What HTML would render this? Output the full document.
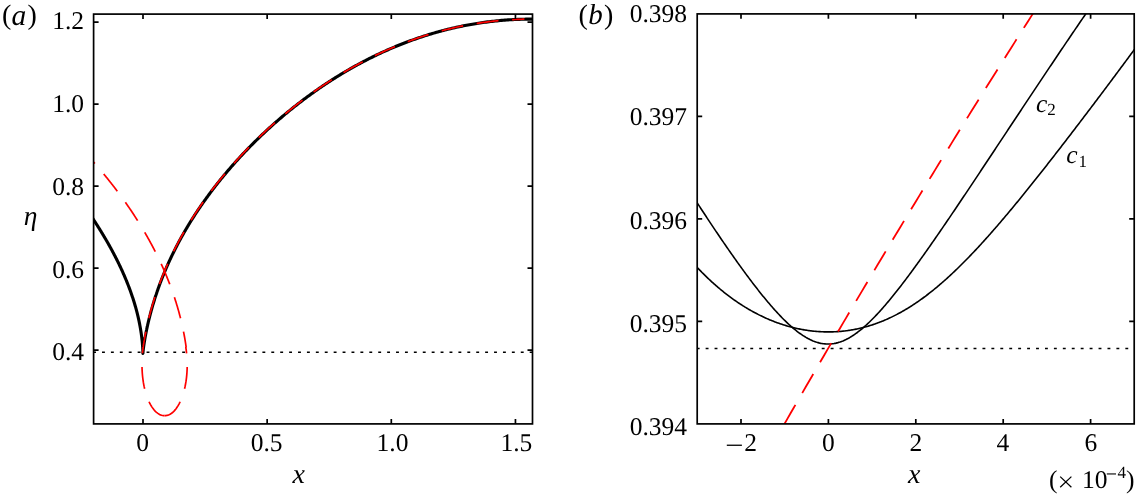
<!DOCTYPE html>
<html><head><meta charset="utf-8"><style>
html,body{margin:0;padding:0;background:#fff;}
body{width:1136px;height:495px;overflow:hidden;}
svg{display:block;will-change:transform;}
text{font-family:"Liberation Serif",serif;fill:#000;text-rendering:geometricPrecision;}
.t{font-size:25.5px;}
.i{font-style:italic;}
</style></head><body>
<svg width="1136" height="495" viewBox="0 0 1136 495">
<defs>
<clipPath id="ca"><rect x="93.6" y="14.1" width="438.9" height="409.8"/></clipPath>
<clipPath id="cb"><rect x="697.2" y="13.9" width="437" height="410"/></clipPath>
</defs>
<!-- ===== panel a ===== -->
<g clip-path="url(#ca)" fill="none">
<line x1="93.6" y1="352.3" x2="533" y2="352.3" stroke="#000" stroke-width="1.5" stroke-dasharray="2.9 6.01" stroke-dashoffset="0.5"/>
<path d="M88.36,211.87 L88.79,212.49 L89.21,213.12 L89.64,213.75 L90.06,214.38 L90.48,215.02 L90.91,215.65 L91.33,216.28 L91.75,216.92 L92.17,217.56 L92.59,218.19 L93.01,218.83 L93.43,219.47 L93.85,220.11 L94.27,220.75 L94.68,221.39 L95.10,222.04 L95.52,222.68 L95.93,223.32 L96.34,223.97 L96.76,224.62 L97.17,225.27 L97.58,225.91 L97.99,226.56 L98.40,227.21 L98.81,227.87 L99.22,228.52 L99.62,229.17 L100.03,229.83 L100.43,230.48 L100.84,231.14 L101.24,231.80 L101.64,232.45 L102.04,233.11 L102.44,233.77 L102.84,234.43 L103.24,235.10 L103.64,235.76 L104.03,236.42 L104.43,237.09 L104.82,237.75 L105.21,238.42 L105.60,239.09 L105.99,239.76 L106.38,240.42 L106.77,241.09 L107.16,241.77 L107.54,242.44 L107.92,243.11 L108.31,243.78 L108.69,244.46 L109.07,245.13 L109.45,245.81 L109.82,246.49 L110.20,247.17 L110.58,247.84 L110.95,248.52 L111.32,249.20 L111.69,249.89 L112.06,250.57 L112.43,251.25 L112.79,251.94 L113.16,252.62 L113.52,253.31 L113.89,253.99 L114.25,254.68 L114.60,255.37 L114.96,256.06 L115.32,256.75 L115.67,257.44 L116.03,258.13 L116.38,258.82 L116.73,259.52 L117.07,260.21 L117.42,260.91 L117.77,261.60 L118.11,262.30 L118.45,262.99 L118.79,263.69 L119.13,264.39 L119.46,265.09 L119.80,265.79 L120.13,266.49 L120.46,267.20 L120.79,267.90 L121.12,268.60 L121.44,269.31 L121.77,270.01 L122.09,270.72 L122.41,271.42 L122.73,272.13 L123.05,272.84 L123.36,273.55 L123.67,274.26 L123.98,274.97 L124.29,275.68 L124.60,276.39 L124.90,277.11 L125.21,277.82 L125.51,278.53 L125.81,279.25 L126.10,279.97 L126.40,280.68 L126.69,281.40 L126.98,282.12 L127.27,282.84 L127.56,283.56 L127.84,284.28 L128.12,285.00 L128.40,285.72 L128.68,286.44 L128.96,287.16 L129.23,287.89 L129.50,288.61 L129.77,289.34 L130.04,290.06 L130.30,290.79 L130.57,291.52 L130.83,292.25 L131.08,292.98 L131.34,293.70 L131.59,294.43 L131.84,295.17 L132.09,295.90 L132.34,296.63 L132.58,297.36 L132.82,298.10 L133.06,298.83 L133.30,299.56 L133.53,300.30 L133.77,301.04 L134.00,301.77 L134.22,302.51 L134.45,303.25 L134.67,303.99 L134.89,304.73 L135.10,305.47 L135.32,306.21 L135.53,306.95 L135.74,307.69 L135.94,308.43 L136.15,309.18 L136.35,309.92 L136.55,310.67 L136.74,311.41 L136.94,312.16 L137.13,312.90 L137.31,313.65 L137.50,314.40 L137.68,315.15 L137.86,315.90 L138.04,316.64 L138.21,317.39 L138.38,318.15 L138.55,318.90 L138.72,319.65 L138.88,320.40 L139.04,321.15 L139.20,321.91 L139.35,322.66 L139.50,323.42 L139.65,324.17 L139.79,324.93 L139.94,325.68 L140.08,326.44 L140.21,327.20 L140.35,327.96 L140.48,328.72 L140.60,329.48 L140.73,330.23 L140.85,331.00 L140.97,331.76 L141.08,332.52 L141.20,333.28 L141.30,334.04 L141.41,334.81 L141.51,335.57 L141.61,336.33 L141.71,337.10 L141.80,337.86 L141.89,338.63 L141.98,339.40 L142.06,340.16 L142.14,340.93 L142.22,341.70 L142.29,342.47 L142.36,343.23 L142.43,344.00 L142.49,344.77 L142.56,345.54 L142.61,346.31 L142.67,347.09 L142.72,347.86 L142.76,348.63 L142.81,349.40 L142.85,350.18 L142.88,350.95 L142.92,351.72 L142.95,352.50 L142.97,353.27 L142.90,353.30 L142.90,353.30 L142.90,353.30 L142.90,353.30 L142.90,353.29 L142.90,353.29 L142.90,353.28 L142.90,353.28 L142.90,353.27 L142.90,353.26 L142.90,353.25 L142.90,353.24 L142.90,353.23 L142.90,353.22 L142.90,353.21 L142.90,353.19 L142.91,353.18 L142.91,353.16 L142.91,353.14 L142.91,353.12 L142.91,353.09 L142.91,353.07 L142.91,353.04 L142.92,353.02 L142.92,352.99 L142.92,352.96 L142.92,352.92 L142.93,352.89 L142.93,352.85 L142.93,352.81 L142.93,352.77 L142.94,352.73 L142.94,352.69 L142.94,352.64 L142.95,352.59 L142.95,352.54 L142.96,352.49 L142.96,352.43 L142.97,352.37 L142.97,352.31 L142.98,352.25 L142.98,352.19 L142.99,352.12 L143.00,352.05 L143.00,351.98 L143.01,351.91 L143.02,351.83 L143.03,351.75 L143.03,351.67 L143.04,351.59 L143.05,351.50 L143.06,351.41 L143.07,351.32 L143.08,351.23 L143.09,351.13 L143.10,351.03 L143.11,350.93 L143.12,350.83 L143.13,350.72 L143.15,350.61 L143.16,350.50 L143.17,350.38 L143.19,350.26 L143.20,350.14 L143.21,350.02 L143.23,349.90 L143.24,349.77 L143.26,349.63 L143.27,349.50 L143.29,349.36 L143.31,349.22 L143.33,349.08 L143.34,348.93 L143.36,348.79 L143.38,348.63 L143.40,348.48 L143.42,348.32 L143.44,348.16 L143.46,348.00 L143.48,347.83 L143.51,347.67 L143.53,347.49 L143.55,347.32 L143.58,347.14 L143.60,346.96 L143.63,346.78 L143.65,346.59 L143.68,346.40 L143.70,346.21 L143.73,346.02 L143.76,345.82 L143.79,345.62 L143.82,345.41 L143.85,345.21 L143.88,345.00 L143.91,344.79 L143.94,344.57 L143.97,344.35 L144.01,344.13 L144.04,343.91 L144.08,343.68 L144.11,343.45 L144.15,343.22 L144.18,342.98 L144.22,342.74 L144.26,342.50 L144.30,342.25 L144.34,342.01 L144.38,341.76 L144.42,341.50 L144.46,341.25 L144.50,340.99 L144.55,340.73 L144.59,340.46 L144.64,340.19 L144.68,339.92 L144.73,339.65 L144.77,339.37 L144.82,339.09 L144.87,338.81 L144.92,338.52 L144.97,338.24 L145.02,337.95 L145.08,337.65 L145.13,337.36 L145.18,337.06 L145.24,336.75 L145.29,336.45 L145.35,336.14 L145.41,335.83 L145.47,335.52 L145.52,335.20 L145.58,334.88 L145.65,334.56 L145.71,334.24 L145.77,333.91 L145.83,333.58 L145.90,333.25 L145.96,332.92 L146.03,332.58 L146.10,332.24 L146.17,331.89 L146.24,331.55 L146.31,331.20 L146.38,330.85 L146.45,330.50 L146.52,330.14 L146.60,329.78 L146.67,329.42 L146.75,329.06 L146.83,328.69 L146.91,328.32 L146.99,327.95 L147.07,327.57 L147.15,327.20 L147.23,326.82 L147.32,326.44 L147.40,326.05 L147.49,325.67 L147.57,325.28 L147.66,324.89 L147.75,324.49 L147.84,324.09 L147.93,323.70 L148.03,323.29 L148.12,322.89 L148.21,322.48 L148.31,322.08 L148.41,321.67 L148.51,321.25 L148.61,320.84 L148.71,320.42 L148.81,320.00 L148.91,319.58 L149.02,319.15 L149.12,318.72 L149.23,318.29 L149.34,317.86 L149.44,317.43 L149.55,316.99 L149.67,316.56 L149.78,316.11 L149.89,315.67 L150.01,315.23 L150.12,314.78 L150.24,314.33 L150.36,313.88 L150.48,313.43 L150.60,312.97 L150.73,312.51 L150.85,312.05 L150.98,311.59 L151.10,311.13 L151.23,310.66 L151.36,310.19 L151.49,309.72 L151.62,309.25 L151.76,308.78 L151.89,308.30 L152.03,307.82 L152.17,307.34 L152.30,306.86 L152.45,306.38 L152.59,305.89 L152.73,305.41 L152.87,304.92 L153.02,304.42 L153.17,303.93 L153.32,303.44 L153.47,302.94 L153.62,302.44 L153.77,301.94 L153.93,301.44 L154.08,300.93 L154.24,300.43 L154.40,299.92 L154.56,299.41 L154.72,298.90 L154.88,298.38 L155.05,297.87 L155.22,297.35 L155.38,296.83 L155.55,296.31 L155.72,295.79 L155.90,295.27 L156.07,294.74 L156.25,294.22 L156.42,293.69 L156.60,293.16 L156.78,292.63 L156.96,292.09 L157.15,291.56 L157.33,291.02 L157.52,290.48 L157.71,289.94 L157.90,289.40 L158.09,288.86 L158.28,288.32 L158.48,287.77 L158.67,287.22 L158.87,286.67 L159.07,286.12 L159.27,285.57 L159.48,285.02 L159.68,284.46 L159.89,283.91 L160.09,283.35 L160.30,282.79 L160.52,282.23 L160.73,281.67 L160.94,281.10 L161.16,280.54 L161.38,279.97 L161.60,279.40 L161.82,278.83 L162.04,278.26 L162.27,277.69 L162.50,277.12 L162.72,276.55 L162.95,275.97 L163.19,275.39 L163.42,274.81 L163.66,274.23 L163.89,273.65 L164.13,273.07 L164.38,272.49 L164.62,271.90 L164.86,271.32 L165.11,270.73 L165.36,270.14 L165.61,269.55 L165.86,268.96 L166.12,268.37 L166.37,267.77 L166.63,267.18 L166.89,266.58 L167.15,265.99 L167.42,265.39 L167.68,264.79 L167.95,264.19 L168.22,263.59 L168.49,262.98 L168.76,262.38 L169.04,261.78 L169.31,261.17 L169.59,260.56 L169.87,259.95 L170.16,259.34 L170.44,258.73 L170.73,258.12 L171.02,257.51 L171.31,256.89 L171.60,256.28 L171.90,255.66 L172.19,255.05 L172.49,254.43 L172.79,253.81 L173.10,253.19 L173.40,252.57 L173.71,251.95 L174.02,251.32 L174.33,250.70 L174.64,250.07 L174.96,249.45 L175.27,248.82 L175.59,248.19 L175.92,247.56 L176.24,246.93 L176.56,246.30 L176.89,245.67 L177.22,245.03 L177.55,244.40 L177.89,243.76 L178.23,243.13 L178.56,242.49 L178.90,241.85 L179.25,241.21 L179.59,240.57 L179.94,239.93 L180.29,239.29 L180.64,238.65 L180.99,238.01 L181.35,237.36 L181.71,236.72 L182.07,236.07 L182.43,235.42 L182.80,234.78 L183.16,234.13 L183.53,233.48 L183.91,232.83 L184.28,232.18 L184.66,231.52 L185.03,230.87 L185.41,230.22 L185.80,229.56 L186.18,228.91 L186.57,228.25 L186.96,227.59 L187.35,226.93 L187.75,226.28 L188.14,225.62 L188.54,224.96 L188.94,224.29 L189.35,223.63 L189.76,222.97 L190.16,222.31 L190.57,221.64 L190.99,220.98 L191.40,220.31 L191.82,219.64 L192.24,218.98 L192.67,218.31 L193.09,217.64 L193.52,216.97 L193.95,216.30 L194.38,215.63 L194.82,214.95 L195.25,214.28 L195.69,213.61 L196.14,212.93 L196.58,212.26 L197.03,211.58 L197.48,210.91 L197.93,210.23 L198.39,209.55 L198.84,208.87 L199.30,208.19 L199.76,207.51 L200.23,206.83 L200.70,206.15 L201.17,205.47 L201.64,204.78 L202.11,204.10 L202.59,203.42 L203.07,202.73 L203.55,202.05 L204.04,201.36 L204.53,200.67 L205.02,199.99 L205.51,199.30 L206.01,198.61 L206.50,197.92 L207.01,197.23 L207.51,196.54 L208.02,195.85 L208.52,195.16 L209.04,194.46 L209.55,193.77 L210.07,193.08 L210.59,192.38 L211.11,191.69 L211.63,190.99 L212.16,190.30 L212.69,189.60 L213.22,188.90 L213.76,188.20 L214.30,187.51 L214.84,186.81 L215.38,186.11 L215.93,185.41 L216.48,184.71 L217.03,184.01 L217.58,183.30 L218.14,182.60 L218.70,181.90 L219.26,181.20 L219.83,180.49 L220.40,179.79 L220.97,179.08 L221.54,178.38 L222.12,177.67 L222.70,176.97 L223.28,176.26 L223.87,175.55 L224.45,174.84 L225.04,174.14 L225.64,173.43 L226.24,172.72 L226.83,172.01 L227.44,171.30 L228.04,170.59 L228.65,169.88 L229.26,169.17 L229.88,168.46 L230.49,167.74 L231.11,167.03 L231.73,166.32 L232.36,165.61 L232.99,164.89 L233.62,164.18 L234.25,163.47 L234.89,162.75 L235.53,162.04 L236.18,161.32 L236.82,160.61 L237.47,159.89 L238.12,159.17 L238.78,158.46 L239.44,157.74 L240.10,157.02 L240.76,156.31 L241.43,155.59 L242.10,154.87 L242.77,154.15 L243.45,153.44 L244.13,152.72 L244.81,152.00 L245.50,151.28 L246.19,150.56 L246.88,149.84 L247.57,149.12 L248.27,148.40 L248.97,147.68 L249.67,146.97 L250.38,146.25 L251.09,145.53 L251.80,144.81 L252.52,144.09 L253.24,143.37 L253.96,142.64 L254.69,141.92 L255.42,141.20 L256.15,140.48 L256.89,139.76 L257.62,139.04 L258.37,138.32 L259.11,137.60 L259.86,136.88 L260.61,136.16 L261.37,135.44 L262.12,134.72 L262.88,134.00 L263.65,133.28 L264.42,132.56 L265.19,131.84 L265.96,131.12 L266.74,130.40 L267.52,129.68 L268.30,128.96 L269.09,128.24 L269.88,127.52 L270.67,126.80 L271.47,126.09 L272.27,125.37 L273.07,124.65 L273.88,123.93 L274.69,123.21 L275.50,122.50 L276.32,121.78 L277.14,121.06 L277.97,120.35 L278.79,119.63 L279.62,118.92 L280.46,118.20 L281.29,117.49 L282.13,116.77 L282.98,116.06 L283.82,115.35 L284.68,114.63 L285.53,113.92 L286.39,113.21 L287.25,112.50 L288.11,111.79 L288.98,111.08 L289.85,110.37 L290.73,109.66 L291.60,108.95 L292.49,108.24 L293.37,107.54 L294.26,106.83 L295.15,106.13 L296.05,105.42 L296.95,104.72 L297.85,104.01 L298.75,103.31 L299.66,102.61 L300.58,101.91 L301.49,101.21 L302.41,100.51 L303.34,99.81 L304.27,99.11 L305.20,98.42 L306.13,97.72 L307.07,97.03 L308.01,96.34 L308.96,95.64 L309.91,94.95 L310.86,94.26 L311.81,93.57 L312.77,92.89 L313.74,92.20 L314.70,91.51 L315.67,90.83 L316.65,90.15 L317.63,89.46 L318.61,88.78 L319.59,88.10 L320.58,87.43 L321.58,86.75 L322.57,86.07 L323.57,85.40 L324.58,84.73 L325.58,84.06 L326.59,83.39 L327.61,82.72 L328.63,82.05 L329.65,81.39 L330.68,80.73 L331.71,80.06 L332.74,79.40 L333.78,78.75 L334.82,78.09 L335.86,77.43 L336.91,76.78 L337.96,76.13 L339.02,75.48 L340.08,74.83 L341.14,74.19 L342.21,73.54 L343.28,72.90 L344.36,72.26 L345.44,71.62 L346.52,70.99 L347.61,70.35 L348.70,69.72 L349.79,69.09 L350.89,68.46 L352.00,67.84 L353.10,67.22 L354.21,66.59 L355.33,65.98 L356.44,65.36 L357.57,64.75 L358.69,64.13 L359.82,63.52 L360.96,62.92 L362.09,62.31 L363.23,61.71 L364.38,61.11 L365.53,60.52 L366.68,59.92 L367.84,59.33 L369.00,58.74 L370.17,58.16 L371.34,57.57 L372.51,56.99 L373.69,56.41 L374.87,55.84 L376.06,55.27 L377.24,54.70 L378.44,54.13 L379.64,53.57 L380.84,53.01 L382.04,52.45 L383.25,51.90 L384.47,51.35 L385.69,50.80 L386.91,50.25 L388.13,49.71 L389.36,49.18 L390.60,48.64 L391.84,48.11 L393.08,47.58 L394.33,47.06 L395.58,46.54 L396.83,46.02 L398.09,45.51 L399.35,45.00 L400.62,44.49 L401.89,43.99 L403.17,43.49 L404.45,42.99 L405.73,42.50 L407.02,42.01 L408.31,41.53 L409.61,41.05 L410.91,40.57 L412.22,40.10 L413.53,39.63 L414.84,39.17 L416.16,38.71 L417.48,38.25 L418.81,37.80 L420.14,37.35 L421.47,36.91 L422.81,36.47 L424.16,36.04 L425.50,35.61 L426.86,35.18 L428.21,34.76 L429.57,34.34 L430.94,33.93 L432.31,33.53 L433.68,33.12 L435.06,32.73 L436.44,32.33 L437.83,31.94 L439.22,31.56 L440.62,31.18 L442.02,30.81 L443.42,30.44 L444.83,30.08 L446.24,29.72 L447.66,29.36 L449.08,29.02 L450.51,28.67 L451.94,28.33 L453.37,28.00 L454.81,27.67 L456.26,27.35 L457.71,27.04 L459.16,26.72 L460.62,26.42 L462.08,26.12 L463.54,25.82 L465.01,25.54 L466.49,25.25 L467.97,24.98 L469.45,24.70 L470.94,24.44 L472.44,24.18 L473.93,23.92 L475.44,23.68 L476.94,23.43 L478.46,23.20 L479.97,22.97 L481.49,22.74 L483.02,22.53 L484.55,22.31 L486.08,22.11 L487.62,21.91 L489.16,21.72 L490.71,21.53 L492.26,21.35 L493.82,21.18 L495.38,21.01 L496.95,20.85 L498.52,20.70 L500.10,20.55 L501.68,20.41 L503.26,20.28 L504.85,20.15 L506.45,20.03 L508.05,19.92 L509.65,19.81 L511.26,19.71 L512.87,19.62 L514.49,19.54 L516.11,19.46 L517.74,19.39 L519.37,19.33 L521.01,19.27 L522.65,19.22 L524.30,19.18 L525.95,19.15 L527.60,19.12 L529.26,19.10 L530.93,19.09 L532.60,19.09 L535.60,19.09" stroke="#000" stroke-width="3.1" stroke-linejoin="round"/>
<path d="M164.60,415.70 L165.71,415.64 L166.82,415.45 L167.93,415.15 L169.02,414.72 L170.11,414.17 L171.18,413.50 L172.24,412.72 L173.28,411.82 L174.29,410.80 L175.29,409.67 L176.25,408.44 L177.19,407.10 L178.10,405.66 L178.98,404.12 L179.82,402.48 L180.62,400.76 L181.39,398.94 L182.11,397.05 L182.79,395.08 L183.43,393.03 L184.02,390.92 L184.57,388.74 L185.07,386.50 L185.51,384.22 L185.91,381.88 L186.25,379.51 L186.55,377.10 L186.79,374.66 L186.97,372.20 L187.10,369.72 L187.18,367.23 L187.20,364.73 L187.17,362.24 L187.08,359.75 L186.94,357.27 L186.74,354.82 L186.49,352.38 L186.19,349.98 L185.83,347.62 L186.09,346.82 L185.99,346.08 L185.88,345.34 L185.77,344.60 L185.66,343.86 L185.55,343.12 L185.44,342.38 L185.32,341.64 L185.20,340.90 L185.08,340.17 L184.95,339.43 L184.83,338.70 L184.70,337.96 L184.57,337.22 L184.44,336.49 L184.31,335.76 L184.17,335.02 L184.04,334.29 L183.90,333.56 L183.76,332.83 L183.61,332.09 L183.47,331.36 L183.32,330.63 L183.17,329.90 L183.02,329.17 L182.87,328.44 L182.71,327.71 L182.56,326.99 L182.40,326.26 L182.24,325.53 L182.07,324.81 L181.91,324.08 L181.74,323.35 L181.57,322.63 L181.40,321.91 L181.23,321.18 L181.06,320.46 L180.88,319.73 L180.70,319.01 L180.52,318.29 L180.34,317.57 L180.16,316.85 L179.97,316.13 L179.78,315.41 L179.60,314.69 L179.40,313.97 L179.21,313.25 L179.02,312.54 L178.82,311.82 L178.62,311.10 L178.42,310.39 L178.22,309.67 L178.02,308.96 L177.81,308.24 L177.60,307.53 L177.39,306.81 L177.18,306.10 L176.97,305.39 L176.75,304.68 L176.54,303.97 L176.32,303.26 L176.10,302.55 L175.88,301.84 L175.65,301.13 L175.43,300.42 L175.20,299.71 L174.97,299.00 L174.74,298.30 L174.51,297.59 L174.28,296.89 L174.04,296.18 L173.80,295.48 L173.56,294.77 L173.32,294.07 L173.08,293.37 L172.84,292.66 L172.59,291.96 L172.34,291.26 L172.09,290.56 L171.84,289.86 L171.59,289.16 L171.34,288.46 L171.08,287.77 L170.82,287.07 L170.56,286.37 L170.30,285.68 L170.04,284.98 L169.77,284.28 L169.51,283.59 L169.24,282.90 L168.97,282.20 L168.70,281.51 L168.43,280.82 L168.15,280.13 L167.88,279.44 L167.60,278.74 L167.32,278.06 L167.04,277.37 L166.76,276.68 L166.48,275.99 L166.19,275.30 L165.91,274.62 L165.62,273.93 L165.33,273.24 L165.04,272.56 L164.74,271.87 L164.45,271.19 L164.15,270.51 L163.85,269.82 L163.56,269.14 L163.25,268.46 L162.95,267.78 L162.65,267.10 L162.34,266.42 L162.04,265.74 L161.73,265.06 L161.42,264.39 L161.11,263.71 L160.80,263.03 L160.48,262.36 L160.17,261.68 L159.85,261.01 L159.53,260.34 L159.21,259.66 L158.89,258.99 L158.57,258.32 L158.24,257.65 L157.92,256.98 L157.59,256.31 L157.26,255.64 L156.93,254.97 L156.60,254.30 L156.27,253.63 L155.93,252.97 L155.60,252.30 L155.26,251.64 L154.92,250.97 L154.58,250.31 L154.24,249.64 L153.90,248.98 L153.55,248.32 L153.21,247.66 L152.86,247.00 L152.51,246.34 L152.16,245.68 L151.81,245.02 L151.46,244.36 L151.10,243.70 L150.75,243.05 L150.39,242.39 L150.04,241.73 L149.68,241.08 L149.32,240.43 L148.96,239.77 L148.59,239.12 L148.23,238.47 L147.86,237.82 L147.50,237.17 L147.13,236.52 L146.76,235.87 L146.39,235.22 L146.02,234.57 L145.64,233.92 L145.27,233.28 L144.89,232.63 L144.52,231.99 L144.14,231.34 L143.76,230.70 L143.38,230.05 L143.00,229.41 L142.62,228.77 L142.23,228.13 L141.85,227.49 L141.46,226.85 L141.07,226.21 L140.68,225.57 L140.29,224.94 L139.90,224.30 L139.51,223.66 L139.12,223.03 L138.72,222.39 L138.32,221.76 L137.93,221.13 L137.53,220.49 L137.13,219.86 L136.73,219.23 L136.33,218.60 L135.92,217.97 L135.52,217.34 L135.11,216.71 L134.71,216.09 L134.30,215.46 L133.89,214.83 L133.48,214.21 L133.07,213.58 L132.66,212.96 L132.25,212.34 L131.83,211.71 L131.42,211.09 L131.00,210.47 L130.58,209.85 L130.17,209.23 L129.75,208.61 L129.33,208.00 L128.90,207.38 L128.48,206.76 L128.06,206.15 L127.63,205.53 L127.21,204.92 L126.78,204.31 L126.35,203.69 L125.92,203.08 L125.49,202.47 L125.06,201.86 L124.63,201.25 L124.20,200.64 L123.77,200.03 L123.33,199.43 L122.90,198.82 L122.46,198.21 L122.02,197.61 L121.58,197.00 L121.14,196.40 L120.70,195.80 L120.26,195.20 L119.82,194.60 L119.37,194.00 L118.93,193.40 L118.48,192.80 L118.04,192.20 L117.59,191.60 L117.14,191.01 L116.69,190.41 L116.24,189.82 L115.79,189.22 L115.34,188.63 L114.89,188.04 L114.44,187.44 L113.98,186.85 L113.53,186.26 L113.07,185.67 L112.61,185.08 L112.16,184.50 L111.70,183.91 L111.24,183.32 L110.78,182.74 L110.32,182.15 L109.85,181.57 L109.39,180.99 L108.93,180.40 L108.46,179.82 L108.00,179.24 L107.53,178.66 L107.07,178.08 L106.60,177.51 L106.13,176.93 L105.66,176.35 L105.19,175.78 L104.72,175.20 L104.25,174.63 L103.78,174.06 L103.30,173.48 L102.83,172.91 L102.35,172.34 L101.88,171.77 L101.40,171.20 L100.92,170.63 L100.45,170.07 L99.97,169.50 L99.49,168.93 L99.01,168.37 L98.53,167.80 L98.05,167.24 L97.57,166.68 L97.08,166.12 L96.60,165.56 L96.12,165.00 L95.63,164.44 L95.15,163.88 L94.66,163.32 L94.17,162.77 L93.69,162.21 L93.20,161.66 L92.71,161.10 L92.22,160.55 L91.73,160.00 L91.24,159.45 L90.75,158.89 L90.26,158.34 L89.76,157.80 L89.27,157.25 L88.78,156.70 L88.28,156.15 L87.79,155.61 L87.29,155.07 L86.80,154.52 L86.30,153.98 L85.80,153.44 L85.30,152.90" stroke="#f00" stroke-width="1.7" stroke-dasharray="22 13.7" stroke-dashoffset="0"/>
<path d="M164.60,415.70 L163.57,415.65 L162.55,415.49 L161.53,415.23 L160.52,414.87 L159.51,414.40 L158.52,413.83 L157.54,413.16 L156.57,412.39 L155.62,411.53 L154.69,410.56 L153.78,409.51 L152.89,408.36 L152.02,407.12 L151.18,405.80 L150.37,404.39 L149.59,402.90 L148.84,401.33 L148.12,399.69 L147.43,397.97 L146.78,396.19 L146.17,394.35 L145.60,392.44 L145.06,390.48 L144.57,388.46 L144.11,386.40 L143.70,384.29 L143.33,382.14 L143.01,379.96 L142.73,377.74 L142.49,375.50 L142.30,373.24 L142.16,370.96 L142.06,368.67 L142.01,366.37 L142.00,364.07 L142.05,361.77 L142.13,359.48 L142.27,357.19 L142.45,354.93 L142.52,353.02 L142.52,352.99 L142.52,352.96 L142.52,352.93 L142.52,352.90 L142.53,352.86 L142.53,352.83 L142.53,352.79 L142.54,352.75 L142.54,352.71 L142.54,352.66 L142.55,352.62 L142.55,352.57 L142.55,352.52 L142.56,352.47 L142.56,352.41 L142.57,352.36 L142.57,352.30 L142.58,352.24 L142.59,352.18 L142.59,352.11 L142.60,352.05 L142.60,351.98 L142.61,351.91 L142.62,351.84 L142.63,351.76 L142.63,351.68 L142.64,351.60 L142.65,351.52 L142.66,351.44 L142.67,351.35 L142.68,351.26 L142.69,351.17 L142.70,351.08 L142.71,350.98 L142.72,350.88 L142.73,350.78 L142.74,350.68 L142.75,350.57 L142.76,350.46 L142.78,350.35 L142.79,350.24 L142.80,350.12 L142.82,350.00 L142.83,349.88 L142.84,349.76 L142.86,349.63 L142.87,349.50 L142.89,349.37 L142.91,349.23 L142.92,349.10 L142.94,348.96 L142.96,348.82 L142.98,348.67 L143.00,348.52 L143.01,348.38 L143.03,348.22 L143.05,348.07 L143.07,347.91 L143.10,347.75 L143.12,347.59 L143.14,347.42 L143.16,347.25 L143.18,347.08 L143.21,346.91 L143.23,346.73 L143.26,346.55 L143.28,346.37 L143.31,346.18 L143.33,346.00 L143.36,345.81 L143.39,345.61 L143.42,345.42 L143.45,345.22 L143.48,345.02 L143.50,344.82 L143.54,344.61 L143.57,344.40 L143.60,344.19 L143.63,343.98 L143.66,343.76 L143.70,343.54 L143.73,343.32 L143.77,343.09 L143.80,342.86 L143.84,342.63 L143.87,342.40 L143.91,342.17 L143.95,341.93 L143.99,341.69 L144.03,341.44 L144.07,341.20 L144.11,340.95 L144.15,340.69 L144.19,340.44 L144.24,340.18 L144.28,339.92 L144.33,339.66 L144.37,339.40 L144.42,339.13 L144.46,338.86 L144.51,338.58 L144.56,338.31 L144.61,338.03 L144.66,337.75 L144.71,337.47 L144.76,337.18 L144.81,336.89 L144.87,336.60 L144.92,336.31 L144.97,336.01 L145.03,335.71 L145.09,335.41 L145.14,335.11 L145.20,334.80 L145.26,334.49 L145.32,334.18 L145.38,333.87 L145.44,333.55 L145.50,333.23 L145.57,332.91 L145.63,332.59 L145.69,332.26 L145.76,331.93 L145.83,331.60 L145.89,331.27 L145.96,330.93 L146.03,330.59 L146.10,330.25 L146.17,329.91 L146.24,329.56 L146.32,329.22 L146.39,328.87 L146.47,328.51 L146.54,328.16 L146.62,327.80 L146.70,327.44 L146.78,327.08 L146.85,326.71 L146.94,326.35 L147.02,325.98 L147.10,325.61 L147.18,325.23 L147.27,324.86 L147.35,324.48 L147.44,324.10 L147.53,323.72 L147.62,323.33 L147.71,322.95 L147.80,322.56 L147.89,322.16 L147.98,321.77 L148.08,321.38 L148.17,320.98 L148.27,320.58 L148.36,320.18 L148.46,319.77 L148.56,319.37 L148.66,318.96 L148.76,318.55 L148.87,318.13 L148.97,317.72 L149.08,317.30 L149.18,316.88 L149.29,316.46 L149.40,316.04 L149.51,315.62 L149.62,315.19 L149.73,314.76 L149.84,314.33 L149.96,313.90 L150.07,313.46 L150.19,313.03 L150.31,312.59 L150.43,312.15 L150.55,311.70 L150.67,311.26 L150.79,310.81 L150.91,310.36 L151.04,309.91 L151.16,309.46 L151.29,309.01 L151.42,308.55 L151.55,308.10 L151.68,307.64 L151.81,307.18 L151.95,306.71 L152.08,306.25 L152.22,305.78 L152.36,305.31 L152.50,304.84 L152.64,304.37 L152.78,303.90 L152.92,303.43 L153.06,302.95 L153.21,302.47 L153.36,301.99 L153.50,301.51 L153.65,301.02 L153.80,300.54 L153.96,300.05 L154.11,299.56 L154.27,299.07 L154.42,298.58 L154.58,298.09 L154.74,297.59 L154.90,297.10 L155.06,296.60 L155.22,296.10 L155.39,295.60 L155.55,295.10 L155.72,294.59 L155.89,294.09 L156.06,293.58 L156.23,293.07 L156.40,292.56 L156.58,292.05 L156.76,291.54 L156.93,291.02 L157.11,290.51 L157.29,289.99 L157.47,289.47 L157.66,288.95 L157.84,288.43 L158.03,287.90 L158.22,287.38 L158.41,286.85 L158.60,286.33 L158.79,285.80 L158.98,285.27 L159.18,284.74 L159.38,284.20 L159.57,283.67 L159.77,283.13 L159.98,282.60 L160.18,282.06 L160.38,281.52 L160.59,280.98 L160.80,280.44 L161.01,279.89 L161.22,279.35 L161.43,278.80 L161.65,278.26 L161.86,277.71 L162.08,277.16 L162.30,276.61 L162.52,276.05 L162.74,275.50 L162.97,274.95 L163.19,274.39 L163.42,273.83 L163.65,273.28 L163.88,272.72 L164.11,272.16 L164.35,271.60 L164.58,271.03 L164.82,270.47 L165.06,269.90 L165.30,269.34 L165.54,268.77 L165.79,268.20 L166.03,267.63 L166.28,267.06 L166.53,266.49 L166.78,265.92 L167.03,265.34 L167.29,264.77 L167.55,264.19 L167.80,263.62 L168.06,263.04 L168.33,262.46 L168.59,261.88 L168.85,261.30 L169.12,260.72 L169.39,260.13 L169.66,259.55 L169.93,258.96 L170.21,258.38 L170.49,257.79 L170.76,257.20 L171.04,256.61 L171.32,256.02 L171.61,255.43 L171.89,254.84 L172.18,254.24 L172.47,253.65 L172.76,253.06 L173.05,252.46 L173.35,251.86 L173.65,251.26 L173.94,250.67 L174.24,250.07 L174.55,249.47 L174.85,248.86 L175.16,248.26 L175.47,247.66 L175.78,247.05 L176.09,246.45 L176.40,245.84 L176.72,245.24 L177.04,244.63 L177.36,244.02 L177.68,243.41 L178.00,242.80 L178.33,242.19 L178.65,241.57 L178.98,240.96 L179.32,240.35 L179.65,239.73 L179.99,239.12 L180.32,238.50 L180.66,237.88 L181.00,237.27 L181.35,236.65 L181.69,236.03 L182.04,235.41 L182.39,234.78 L182.74,234.16 L183.10,233.54 L183.45,232.92 L183.81,232.29 L184.17,231.67 L184.54,231.04 L184.90,230.41 L185.27,229.79 L185.64,229.16 L186.01,228.53 L186.38,227.90 L186.75,227.27 L187.13,226.64 L187.51,226.00 L187.89,225.37 L188.28,224.74 L188.66,224.10 L189.05,223.47 L189.44,222.83 L189.83,222.19 L190.23,221.56 L190.62,220.92 L191.02,220.28 L191.42,219.64 L191.83,219.00 L192.23,218.36 L192.64,217.72 L193.05,217.08 L193.46,216.43 L193.88,215.79 L194.29,215.14 L194.71,214.50 L195.13,213.85 L195.56,213.21 L195.98,212.56 L196.41,211.91 L196.84,211.26 L197.27,210.61 L197.71,209.96 L198.14,209.31 L198.58,208.66 L199.03,208.01 L199.47,207.36 L199.92,206.71 L200.36,206.05 L200.82,205.40 L201.27,204.74 L201.72,204.09 L202.18,203.43 L202.64,202.77 L203.11,202.12 L203.57,201.46 L204.04,200.80 L204.51,200.14 L204.98,199.48 L205.45,198.82 L205.93,198.16 L206.41,197.50 L206.89,196.84 L207.38,196.17 L207.86,195.51 L208.35,194.85 L208.84,194.18 L209.34,193.52 L209.83,192.85 L210.33,192.19 L210.83,191.52 L211.34,190.85 L211.84,190.18 L212.35,189.52 L212.86,188.85 L213.38,188.18 L213.89,187.51 L214.41,186.84 L214.93,186.17 L215.46,185.50 L215.98,184.82 L216.51,184.15 L217.04,183.48 L217.58,182.80 L218.11,182.13 L218.65,181.46 L219.19,180.78 L219.74,180.11 L220.28,179.43 L220.83,178.76 L221.39,178.08 L221.94,177.40 L222.50,176.72 L223.06,176.05 L223.62,175.37 L224.18,174.69 L224.75,174.01 L225.32,173.33 L225.89,172.65 L226.47,171.97 L227.05,171.29 L227.63,170.61 L228.21,169.93 L228.80,169.24 L229.38,168.56 L229.97,167.88 L230.57,167.20 L231.17,166.51 L231.76,165.83 L232.37,165.15 L232.97,164.46 L233.58,163.78 L234.19,163.09 L234.80,162.41 L235.42,161.72 L236.03,161.03 L236.66,160.35 L237.28,159.66 L237.90,158.98 L238.53,158.29 L239.17,157.60 L239.80,156.91 L240.44,156.23 L241.08,155.54 L241.72,154.85 L242.37,154.16 L243.02,153.47 L243.67,152.78 L244.32,152.09 L244.98,151.41 L245.64,150.72 L246.30,150.03 L246.97,149.34 L247.63,148.65 L248.31,147.96 L248.98,147.27 L249.66,146.58 L250.34,145.89 L251.02,145.20 L251.70,144.50 L252.39,143.81 L253.08,143.12 L253.78,142.43 L254.47,141.74 L255.17,141.05 L255.88,140.36 L256.58,139.67 L257.29,138.98 L258.00,138.29 L258.72,137.60 L259.44,136.90 L260.16,136.21 L260.88,135.52 L261.61,134.83 L262.33,134.14 L263.07,133.45 L263.80,132.76 L264.54,132.07 L265.28,131.38 L266.03,130.69 L266.77,130.00 L267.52,129.31 L268.28,128.62 L269.03,127.93 L269.79,127.24 L270.55,126.55 L271.32,125.86 L272.09,125.17 L272.86,124.48 L273.63,123.80 L274.41,123.11 L275.19,122.42 L275.98,121.73 L276.76,121.05 L277.55,120.36 L278.35,119.67 L279.14,118.99 L279.94,118.30 L280.74,117.61 L281.55,116.93 L282.36,116.25 L283.17,115.56 L283.98,114.88 L284.80,114.19 L285.62,113.51 L286.45,112.83 L287.27,112.15 L288.10,111.47 L288.94,110.79 L289.78,110.11 L290.62,109.43 L291.46,108.75 L292.30,108.07 L293.15,107.39 L294.01,106.71 L294.86,106.04 L295.72,105.36 L296.59,104.69 L297.45,104.01 L298.32,103.34 L299.19,102.67 L300.07,101.99 L300.95,101.32 L301.83,100.65 L302.71,99.98 L303.60,99.31 L304.49,98.64 L305.39,97.98 L306.29,97.31 L307.19,96.65 L308.09,95.98 L309.00,95.32 L309.91,94.66 L310.83,93.99 L311.75,93.33 L312.67,92.68 L313.59,92.02 L314.52,91.36 L315.45,90.70 L316.39,90.05 L317.33,89.40 L318.27,88.74 L319.21,88.09 L320.16,87.44 L321.11,86.79 L322.07,86.14 L323.03,85.50 L323.99,84.85 L324.96,84.21 L325.92,83.57 L326.90,82.93 L327.87,82.29 L328.85,81.65 L329.83,81.01 L330.82,80.38 L331.81,79.74 L332.80,79.11 L333.80,78.48 L334.80,77.85 L335.80,77.22 L336.81,76.60 L337.82,75.97 L338.83,75.35 L339.85,74.73 L340.87,74.11 L341.90,73.49 L342.92,72.88 L343.96,72.26 L344.99,71.65 L346.03,71.04 L347.07,70.43 L348.12,69.83 L349.17,69.22 L350.22,68.62 L351.27,68.02 L352.33,67.42 L353.40,66.83 L354.46,66.23 L355.54,65.64 L356.61,65.05 L357.69,64.46 L358.77,63.88 L359.85,63.29 L360.94,62.71 L362.03,62.13 L363.13,61.56 L364.23,60.98 L365.33,60.41 L366.44,59.84 L367.55,59.27 L368.67,58.71 L369.78,58.15 L370.90,57.59 L372.03,57.03 L373.16,56.48 L374.29,55.93 L375.43,55.38 L376.57,54.83 L377.71,54.29 L378.86,53.74 L380.01,53.21 L381.17,52.67 L382.32,52.14 L383.49,51.61 L384.65,51.08 L385.82,50.56 L387.00,50.04 L388.17,49.52 L389.35,49.01 L390.54,48.49 L391.73,47.98 L392.92,47.48 L394.12,46.98 L395.32,46.48 L396.52,45.98 L397.73,45.49 L398.94,45.00 L400.16,44.51 L401.38,44.03 L402.60,43.55 L403.83,43.08 L405.06,42.60 L406.29,42.14 L407.53,41.67 L408.77,41.21 L410.02,40.75 L411.27,40.30 L412.52,39.85 L413.78,39.40 L415.04,38.96 L416.31,38.52 L417.58,38.08 L418.85,37.65 L420.13,37.22 L421.41,36.80 L422.70,36.38 L423.99,35.96 L425.28,35.55 L426.58,35.14 L427.88,34.74 L429.18,34.34 L430.49,33.95 L431.81,33.56 L433.12,33.17 L434.44,32.79 L435.77,32.41 L437.10,32.04 L438.43,31.67 L439.77,31.30 L441.11,30.94 L442.45,30.59 L443.80,30.24 L445.16,29.89 L446.51,29.55 L447.88,29.21 L449.24,28.88 L450.61,28.55 L451.98,28.23 L453.36,27.91 L454.74,27.60 L456.13,27.29 L457.52,26.99 L458.91,26.69 L460.31,26.40 L461.71,26.11 L463.12,25.83 L464.53,25.55 L465.94,25.28 L467.36,25.01 L468.79,24.75 L470.21,24.50 L471.64,24.25 L473.08,24.00 L474.52,23.76 L475.96,23.53 L477.41,23.30 L478.86,23.07 L480.32,22.86 L481.78,22.64 L483.24,22.44 L484.71,22.24 L486.19,22.04 L487.66,21.85 L489.14,21.67 L490.63,21.49 L492.12,21.32 L493.61,21.16 L495.11,21.00 L496.62,20.84 L498.12,20.70 L499.63,20.56 L501.15,20.42 L502.67,20.29 L504.19,20.17 L505.72,20.05 L507.25,19.94 L508.79,19.84 L510.33,19.74 L511.88,19.65 L513.43,19.57 L514.98,19.49 L516.54,19.42 L518.10,19.36 L519.67,19.30 L521.24,19.25 L522.82,19.21 L524.40,19.17" stroke="#f00" stroke-width="1.7" stroke-dasharray="22 13.7" stroke-dashoffset="0"/>
</g>
<g stroke="#000" stroke-width="1.7" fill="none">
<rect x="93.6" y="14.1" width="438.9" height="409.8"/>
<path d="M93.6,22.15h5M93.6,104.1h5M93.6,186.1h5M93.6,268.1h5M93.6,350.1h5
M532.5,22.15h-5M532.5,104.1h-5M532.5,186.1h-5M532.5,268.1h-5M532.5,350.1h-5
M143,423.9v-4.8M267.15,423.9v-4.8M391.3,423.9v-4.8M515.45,423.9v-4.8
M143,14.1v4.8M267.15,14.1v4.8M391.3,14.1v4.8M515.45,14.1v4.8"/>
</g>
<g class="t" text-anchor="end">
<text x="84" y="28.9">1.2</text>
<text x="84" y="111.9">1.0</text>
<text x="84" y="194.8">0.8</text>
<text x="84" y="277.6">0.6</text>
<text x="84" y="360.3">0.4</text>
</g>
<g class="t" text-anchor="middle">
<text x="142.5" y="451">0</text>
<text x="266.6" y="451">0.5</text>
<text x="392.5" y="451">1.0</text>
<text x="516.4" y="451">1.5</text>
</g>
<text x="298.7" y="482.7" class="i" style="font-size:28px" text-anchor="middle">x</text>
<text x="30.7" y="224.5" class="i" style="font-size:27.5px" text-anchor="middle">η</text>
<text x="2" y="23.5" style="font-size:28px">(</text>
<text x="11.5" y="24.5" class="i" style="font-size:29.5px">a</text>
<text x="27.4" y="23.5" style="font-size:28px">)</text>

<!-- ===== panel b ===== -->
<g clip-path="url(#cb)" fill="none">
<line x1="697.2" y1="348.5" x2="1135" y2="348.5" stroke="#000" stroke-width="1.5" stroke-dasharray="2.9 6.03" stroke-dashoffset="0.5"/>
<path d="M690.00,259.55 L691.00,260.69 L692.00,261.81 L693.00,262.92 L694.00,264.02 L695.00,265.11 L696.00,266.19 L697.00,267.25 L698.00,268.31 L699.00,269.36 L700.00,270.39 L701.00,271.42 L702.00,272.44 L703.00,273.44 L704.00,274.44 L705.00,275.42 L706.00,276.40 L707.00,277.36 L708.00,278.31 L709.00,279.26 L710.00,280.19 L711.00,281.12 L712.00,282.04 L713.00,282.94 L714.00,283.84 L715.00,284.72 L716.00,285.60 L717.00,286.47 L718.00,287.32 L719.00,288.17 L720.00,289.01 L721.00,289.84 L722.00,290.66 L723.00,291.47 L724.00,292.27 L725.00,293.07 L726.00,293.85 L727.00,294.62 L728.00,295.39 L729.00,296.14 L730.00,296.89 L731.00,297.63 L732.00,298.36 L733.00,299.08 L734.00,299.79 L735.00,300.50 L736.00,301.19 L737.00,301.88 L738.00,302.55 L739.00,303.22 L740.00,303.88 L741.00,304.53 L742.00,305.18 L743.00,305.81 L744.00,306.44 L745.00,307.06 L746.00,307.67 L747.00,308.27 L748.00,308.86 L749.00,309.44 L750.00,310.02 L751.00,310.59 L752.00,311.15 L753.00,311.70 L754.00,312.25 L755.00,312.78 L756.00,313.31 L757.00,313.83 L758.00,314.35 L759.00,314.85 L760.00,315.35 L761.00,315.84 L762.00,316.32 L763.00,316.79 L764.00,317.26 L765.00,317.72 L766.00,318.17 L767.00,318.61 L768.00,319.05 L769.00,319.48 L770.00,319.90 L771.00,320.31 L772.00,320.71 L773.00,321.11 L774.00,321.50 L775.00,321.88 L776.00,322.26 L777.00,322.63 L778.00,322.99 L779.00,323.34 L780.00,323.69 L781.00,324.03 L782.00,324.36 L783.00,324.68 L784.00,325.00 L785.00,325.31 L786.00,325.61 L787.00,325.91 L788.00,326.20 L789.00,326.48 L790.00,326.75 L791.00,327.02 L792.00,327.28 L793.00,327.53 L794.00,327.77 L795.00,328.01 L796.00,328.24 L797.00,328.47 L798.00,328.68 L799.00,328.89 L800.00,329.10 L801.00,329.29 L802.00,329.48 L803.00,329.66 L804.00,329.84 L805.00,330.00 L806.00,330.16 L807.00,330.32 L808.00,330.46 L809.00,330.60 L810.00,330.73 L811.00,330.86 L812.00,330.98 L813.00,331.09 L814.00,331.19 L815.00,331.29 L816.00,331.38 L817.00,331.47 L818.00,331.54 L819.00,331.61 L820.00,331.67 L821.00,331.73 L822.00,331.78 L823.00,331.82 L824.00,331.85 L825.00,331.88 L826.00,331.90 L827.00,331.91 L828.00,331.92 L829.00,331.92 L830.00,331.91 L831.00,331.89 L832.00,331.87 L833.00,331.84 L834.00,331.80 L835.00,331.76 L836.00,331.71 L837.00,331.65 L838.00,331.58 L839.00,331.51 L840.00,331.43 L841.00,331.34 L842.00,331.25 L843.00,331.15 L844.00,331.04 L845.00,330.92 L846.00,330.80 L847.00,330.67 L848.00,330.53 L849.00,330.38 L850.00,330.23 L851.00,330.07 L852.00,329.90 L853.00,329.73 L854.00,329.54 L855.00,329.35 L856.00,329.16 L857.00,328.95 L858.00,328.74 L859.00,328.52 L860.00,328.29 L861.00,328.05 L862.00,327.81 L863.00,327.56 L864.00,327.30 L865.00,327.03 L866.00,326.76 L867.00,326.48 L868.00,326.19 L869.00,325.89 L870.00,325.59 L871.00,325.27 L872.00,324.95 L873.00,324.62 L874.00,324.29 L875.00,323.94 L876.00,323.59 L877.00,323.23 L878.00,322.86 L879.00,322.49 L880.00,322.10 L881.00,321.71 L882.00,321.31 L883.00,320.90 L884.00,320.49 L885.00,320.06 L886.00,319.63 L887.00,319.19 L888.00,318.74 L889.00,318.29 L890.00,317.83 L891.00,317.35 L892.00,316.87 L893.00,316.38 L894.00,315.89 L895.00,315.38 L896.00,314.87 L897.00,314.35 L898.00,313.82 L899.00,313.29 L900.00,312.74 L901.00,312.19 L902.00,311.63 L903.00,311.06 L904.00,310.48 L905.00,309.90 L906.00,309.30 L907.00,308.70 L908.00,308.09 L909.00,307.47 L910.00,306.85 L911.00,306.22 L912.00,305.57 L913.00,304.92 L914.00,304.27 L915.00,303.60 L916.00,302.93 L917.00,302.25 L918.00,301.56 L919.00,300.86 L920.00,300.16 L921.00,299.45 L922.00,298.73 L923.00,298.00 L924.00,297.26 L925.00,296.52 L926.00,295.77 L927.00,295.01 L928.00,294.25 L929.00,293.47 L930.00,292.69 L931.00,291.90 L932.00,291.11 L933.00,290.31 L934.00,289.50 L935.00,288.68 L936.00,287.85 L937.00,287.02 L938.00,286.18 L939.00,285.34 L940.00,284.48 L941.00,283.62 L942.00,282.76 L943.00,281.88 L944.00,281.00 L945.00,280.12 L946.00,279.22 L947.00,278.32 L948.00,277.41 L949.00,276.50 L950.00,275.58 L951.00,274.65 L952.00,273.72 L953.00,272.78 L954.00,271.83 L955.00,270.88 L956.00,269.92 L957.00,268.96 L958.00,267.99 L959.00,267.02 L960.00,266.03 L961.00,265.05 L962.00,264.05 L963.00,263.05 L964.00,262.05 L965.00,261.04 L966.00,260.02 L967.00,259.00 L968.00,257.97 L969.00,256.94 L970.00,255.91 L971.00,254.86 L972.00,253.82 L973.00,252.76 L974.00,251.71 L975.00,250.64 L976.00,249.58 L977.00,248.50 L978.00,247.43 L979.00,246.34 L980.00,245.26 L981.00,244.17 L982.00,243.07 L983.00,241.97 L984.00,240.87 L985.00,239.76 L986.00,238.65 L987.00,237.53 L988.00,236.41 L989.00,235.29 L990.00,234.16 L991.00,233.02 L992.00,231.89 L993.00,230.75 L994.00,229.60 L995.00,228.45 L996.00,227.30 L997.00,226.15 L998.00,224.99 L999.00,223.83 L1000.00,222.66 L1001.00,221.49 L1002.00,220.32 L1003.00,219.14 L1004.00,217.96 L1005.00,216.78 L1006.00,215.60 L1007.00,214.41 L1008.00,213.22 L1009.00,212.02 L1010.00,210.82 L1011.00,209.62 L1012.00,208.42 L1013.00,207.22 L1014.00,206.01 L1015.00,204.80 L1016.00,203.58 L1017.00,202.37 L1018.00,201.15 L1019.00,199.93 L1020.00,198.70 L1021.00,197.48 L1022.00,196.25 L1023.00,195.02 L1024.00,193.79 L1025.00,192.55 L1026.00,191.31 L1027.00,190.07 L1028.00,188.83 L1029.00,187.59 L1030.00,186.34 L1031.00,185.09 L1032.00,183.85 L1033.00,182.59 L1034.00,181.34 L1035.00,180.08 L1036.00,178.83 L1037.00,177.57 L1038.00,176.31 L1039.00,175.05 L1040.00,173.78 L1041.00,172.52 L1042.00,171.25 L1043.00,169.98 L1044.00,168.71 L1045.00,167.44 L1046.00,166.16 L1047.00,164.89 L1048.00,163.61 L1049.00,162.33 L1050.00,161.05 L1051.00,159.77 L1052.00,158.49 L1053.00,157.21 L1054.00,155.92 L1055.00,154.63 L1056.00,153.35 L1057.00,152.06 L1058.00,150.77 L1059.00,149.48 L1060.00,148.19 L1061.00,146.89 L1062.00,145.60 L1063.00,144.30 L1064.00,143.00 L1065.00,141.71 L1066.00,140.41 L1067.00,139.11 L1068.00,137.81 L1069.00,136.50 L1070.00,135.20 L1071.00,133.90 L1072.00,132.59 L1073.00,131.29 L1074.00,129.98 L1075.00,128.67 L1076.00,127.36 L1077.00,126.05 L1078.00,124.74 L1079.00,123.43 L1080.00,122.12 L1081.00,120.80 L1082.00,119.49 L1083.00,118.17 L1084.00,116.86 L1085.00,115.54 L1086.00,114.22 L1087.00,112.91 L1088.00,111.59 L1089.00,110.27 L1090.00,108.95 L1091.00,107.62 L1092.00,106.30 L1093.00,104.98 L1094.00,103.65 L1095.00,102.33 L1096.00,101.00 L1097.00,99.68 L1098.00,98.35 L1099.00,97.02 L1100.00,95.69 L1101.00,94.36 L1102.00,93.03 L1103.00,91.70 L1104.00,90.37 L1105.00,89.04 L1106.00,87.70 L1107.00,86.37 L1108.00,85.03 L1109.00,83.70 L1110.00,82.36 L1111.00,81.02 L1112.00,79.68 L1113.00,78.35 L1114.00,77.01 L1115.00,75.66 L1116.00,74.32 L1117.00,72.98 L1118.00,71.64 L1119.00,70.29 L1120.00,68.95 L1121.00,67.60 L1122.00,66.26 L1123.00,64.91 L1124.00,63.56 L1125.00,62.21 L1126.00,60.86 L1127.00,59.51 L1128.00,58.16 L1129.00,56.81 L1130.00,55.45 L1131.00,54.10 L1132.00,52.74 L1133.00,51.39 L1134.00,50.03 L1135.00,48.67 L1136.00,47.31 L1137.00,45.95 L1138.00,44.59 L1139.00,43.23 L1140.00,41.86" stroke="#000" stroke-width="1.6"/>
<path d="M690.00,191.70 L691.00,193.26 L692.00,194.81 L693.00,196.36 L694.00,197.91 L695.00,199.46 L696.00,201.01 L697.00,202.55 L698.00,204.09 L699.00,205.63 L700.00,207.16 L701.00,208.69 L702.00,210.22 L703.00,211.75 L704.00,213.27 L705.00,214.80 L706.00,216.31 L707.00,217.83 L708.00,219.34 L709.00,220.85 L710.00,222.36 L711.00,223.86 L712.00,225.36 L713.00,226.86 L714.00,228.35 L715.00,229.84 L716.00,231.33 L717.00,232.82 L718.00,234.30 L719.00,235.77 L720.00,237.25 L721.00,238.72 L722.00,240.18 L723.00,241.65 L724.00,243.11 L725.00,244.56 L726.00,246.01 L727.00,247.46 L728.00,248.90 L729.00,250.34 L730.00,251.78 L731.00,253.21 L732.00,254.64 L733.00,256.06 L734.00,257.48 L735.00,258.89 L736.00,260.30 L737.00,261.70 L738.00,263.10 L739.00,264.49 L740.00,265.88 L741.00,267.26 L742.00,268.64 L743.00,270.02 L744.00,271.38 L745.00,272.74 L746.00,274.10 L747.00,275.45 L748.00,276.79 L749.00,278.13 L750.00,279.46 L751.00,280.79 L752.00,282.11 L753.00,283.42 L754.00,284.72 L755.00,286.02 L756.00,287.31 L757.00,288.60 L758.00,289.87 L759.00,291.14 L760.00,292.40 L761.00,293.65 L762.00,294.90 L763.00,296.13 L764.00,297.36 L765.00,298.58 L766.00,299.78 L767.00,300.98 L768.00,302.17 L769.00,303.35 L770.00,304.52 L771.00,305.68 L772.00,306.83 L773.00,307.97 L774.00,309.10 L775.00,310.22 L776.00,311.32 L777.00,312.41 L778.00,313.49 L779.00,314.56 L780.00,315.62 L781.00,316.66 L782.00,317.69 L783.00,318.70 L784.00,319.70 L785.00,320.69 L786.00,321.66 L787.00,322.62 L788.00,323.56 L789.00,324.48 L790.00,325.39 L791.00,326.29 L792.00,327.16 L793.00,328.02 L794.00,328.86 L795.00,329.68 L796.00,330.48 L797.00,331.27 L798.00,332.03 L799.00,332.78 L800.00,333.50 L801.00,334.20 L802.00,334.89 L803.00,335.55 L804.00,336.19 L805.00,336.80 L806.00,337.40 L807.00,337.97 L808.00,338.52 L809.00,339.04 L810.00,339.54 L811.00,340.01 L812.00,340.46 L813.00,340.89 L814.00,341.29 L815.00,341.66 L816.00,342.01 L817.00,342.33 L818.00,342.62 L819.00,342.89 L820.00,343.13 L821.00,343.34 L822.00,343.52 L823.00,343.68 L824.00,343.80 L825.00,343.90 L826.00,343.98 L827.00,344.02 L828.00,344.03 L829.00,344.02 L830.00,343.98 L831.00,343.91 L832.00,343.81 L833.00,343.68 L834.00,343.53 L835.00,343.34 L836.00,343.13 L837.00,342.89 L838.00,342.63 L839.00,342.33 L840.00,342.01 L841.00,341.66 L842.00,341.29 L843.00,340.89 L844.00,340.46 L845.00,340.01 L846.00,339.54 L847.00,339.03 L848.00,338.51 L849.00,337.96 L850.00,337.38 L851.00,336.78 L852.00,336.16 L853.00,335.52 L854.00,334.85 L855.00,334.16 L856.00,333.46 L857.00,332.73 L858.00,331.97 L859.00,331.20 L860.00,330.41 L861.00,329.60 L862.00,328.78 L863.00,327.93 L864.00,327.06 L865.00,326.18 L866.00,325.28 L867.00,324.36 L868.00,323.43 L869.00,322.48 L870.00,321.52 L871.00,320.54 L872.00,319.54 L873.00,318.53 L874.00,317.51 L875.00,316.47 L876.00,315.42 L877.00,314.36 L878.00,313.28 L879.00,312.19 L880.00,311.09 L881.00,309.98 L882.00,308.86 L883.00,307.72 L884.00,306.58 L885.00,305.42 L886.00,304.25 L887.00,303.07 L888.00,301.89 L889.00,300.69 L890.00,299.49 L891.00,298.27 L892.00,297.05 L893.00,295.82 L894.00,294.58 L895.00,293.33 L896.00,292.07 L897.00,290.81 L898.00,289.54 L899.00,288.26 L900.00,286.97 L901.00,285.68 L902.00,284.38 L903.00,283.08 L904.00,281.77 L905.00,280.45 L906.00,279.13 L907.00,277.80 L908.00,276.46 L909.00,275.12 L910.00,273.77 L911.00,272.42 L912.00,271.07 L913.00,269.71 L914.00,268.34 L915.00,266.97 L916.00,265.59 L917.00,264.21 L918.00,262.83 L919.00,261.44 L920.00,260.05 L921.00,258.65 L922.00,257.25 L923.00,255.85 L924.00,254.44 L925.00,253.03 L926.00,251.62 L927.00,250.20 L928.00,248.78 L929.00,247.35 L930.00,245.93 L931.00,244.50 L932.00,243.06 L933.00,241.63 L934.00,240.19 L935.00,238.75 L936.00,237.30 L937.00,235.86 L938.00,234.41 L939.00,232.96 L940.00,231.50 L941.00,230.05 L942.00,228.59 L943.00,227.13 L944.00,225.67 L945.00,224.20 L946.00,222.74 L947.00,221.27 L948.00,219.80 L949.00,218.33 L950.00,216.85 L951.00,215.38 L952.00,213.90 L953.00,212.42 L954.00,210.94 L955.00,209.46 L956.00,207.98 L957.00,206.49 L958.00,205.01 L959.00,203.52 L960.00,202.03 L961.00,200.54 L962.00,199.05 L963.00,197.56 L964.00,196.07 L965.00,194.58 L966.00,193.08 L967.00,191.59 L968.00,190.09 L969.00,188.59 L970.00,187.09 L971.00,185.59 L972.00,184.09 L973.00,182.59 L974.00,181.09 L975.00,179.59 L976.00,178.09 L977.00,176.58 L978.00,175.08 L979.00,173.57 L980.00,172.07 L981.00,170.56 L982.00,169.06 L983.00,167.55 L984.00,166.04 L985.00,164.54 L986.00,163.03 L987.00,161.52 L988.00,160.01 L989.00,158.50 L990.00,156.99 L991.00,155.48 L992.00,153.97 L993.00,152.46 L994.00,150.95 L995.00,149.44 L996.00,147.93 L997.00,146.42 L998.00,144.91 L999.00,143.40 L1000.00,141.89 L1001.00,140.38 L1002.00,138.87 L1003.00,137.36 L1004.00,135.85 L1005.00,134.34 L1006.00,132.83 L1007.00,131.32 L1008.00,129.81 L1009.00,128.30 L1010.00,126.79 L1011.00,125.28 L1012.00,123.77 L1013.00,122.26 L1014.00,120.75 L1015.00,119.24 L1016.00,117.73 L1017.00,116.22 L1018.00,114.71 L1019.00,113.20 L1020.00,111.69 L1021.00,110.19 L1022.00,108.68 L1023.00,107.17 L1024.00,105.67 L1025.00,104.16 L1026.00,102.65 L1027.00,101.15 L1028.00,99.64 L1029.00,98.14 L1030.00,96.63 L1031.00,95.13 L1032.00,93.63 L1033.00,92.13 L1034.00,90.62 L1035.00,89.12 L1036.00,87.62 L1037.00,86.12 L1038.00,84.62 L1039.00,83.12 L1040.00,81.62 L1041.00,80.12 L1042.00,78.63 L1043.00,77.13 L1044.00,75.63 L1045.00,74.14 L1046.00,72.64 L1047.00,71.15 L1048.00,69.65 L1049.00,68.16 L1050.00,66.67 L1051.00,65.18 L1052.00,63.69 L1053.00,62.20 L1054.00,60.71 L1055.00,59.22 L1056.00,57.73 L1057.00,56.24 L1058.00,54.76 L1059.00,53.27 L1060.00,51.79 L1061.00,50.30 L1062.00,48.82 L1063.00,47.34 L1064.00,45.86 L1065.00,44.38 L1066.00,42.90 L1067.00,41.42 L1068.00,39.94 L1069.00,38.46 L1070.00,36.99 L1071.00,35.51 L1072.00,34.04 L1073.00,32.57 L1074.00,31.09 L1075.00,29.62 L1076.00,28.15 L1077.00,26.68 L1078.00,25.21 L1079.00,23.75 L1080.00,22.28 L1081.00,20.82 L1082.00,19.35 L1083.00,17.89 L1084.00,16.43 L1085.00,14.97 L1086.00,13.51 L1087.00,12.05 L1088.00,10.59 L1089.00,9.13 L1090.00,7.68 L1091.00,6.22 L1092.00,4.77 L1093.00,3.32 L1094.00,1.87 L1095.00,0.42 L1096.00,-1.03 L1097.00,-2.48 L1098.00,-3.92 L1099.00,-5.37 L1100.00,-6.81 L1101.00,-8.26 L1102.00,-9.70 L1103.00,-11.14 L1104.00,-12.58 L1105.00,-14.02 L1106.00,-15.45 L1107.00,-16.89 L1108.00,-18.32 L1109.00,-19.75 L1110.00,-21.19 L1111.00,-22.62 L1112.00,-24.04 L1113.00,-25.47 L1114.00,-26.90 L1115.00,-28.32 L1116.00,-29.75 L1117.00,-31.17 L1118.00,-32.59 L1119.00,-34.01 L1120.00,-35.43 L1121.00,-36.85 L1122.00,-38.26 L1123.00,-39.68 L1124.00,-41.09 L1125.00,-42.50 L1126.00,-43.91 L1127.00,-45.32 L1128.00,-46.73 L1129.00,-48.13 L1130.00,-49.54 L1131.00,-50.94 L1132.00,-52.34 L1133.00,-53.74 L1134.00,-55.14 L1135.00,-56.54 L1136.00,-57.93 L1137.00,-59.33 L1138.00,-60.72 L1139.00,-62.11 L1140.00,-63.50" stroke="#000" stroke-width="1.6"/>
<path d="M784.45,423.90 L787.49,418.60 L790.54,413.29 L793.59,407.99 L796.64,402.69 L799.70,397.39 L802.76,392.08 L805.83,386.78 L808.90,381.48 L811.98,376.18 L815.06,370.87 L818.15,365.57 L821.24,360.27 L824.33,354.97 L827.43,349.66 L830.54,344.36 L833.64,339.06 L836.76,333.76 L839.87,328.45 L842.99,323.15 L846.12,317.85 L849.25,312.55 L852.38,307.24 L855.52,301.94 L858.67,296.64 L861.81,291.34 L864.97,286.03 L868.12,280.73 L871.29,275.43 L874.45,270.13 L877.62,264.82 L880.80,259.52 L883.97,254.22 L887.16,248.92 L890.35,243.61 L893.54,238.31 L896.74,233.01 L899.94,227.71 L903.14,222.40 L906.35,217.10 L909.57,211.80 L912.79,206.50 L916.01,201.19 L919.24,195.89 L922.47,190.59 L925.71,185.29 L928.95,179.98 L932.19,174.68 L935.44,169.38 L938.70,164.08 L941.96,158.77 L945.22,153.47 L948.49,148.17 L951.76,142.87 L955.04,137.56 L958.32,132.26 L961.61,126.96 L964.90,121.66 L968.19,116.35 L971.49,111.05 L974.79,105.75 L978.10,100.45 L981.41,95.14 L984.73,89.84 L988.05,84.54 L991.38,79.24 L994.71,73.93 L998.04,68.63 L1001.38,63.33 L1004.72,58.03 L1008.07,52.72 L1011.42,47.42 L1014.78,42.12 L1018.14,36.82 L1021.51,31.51 L1024.88,26.21 L1028.25,20.91 L1031.63,15.61 L1035.01,10.30 L1038.40,5.00" stroke="#f00" stroke-width="1.8" stroke-dasharray="22 13.6" stroke-dashoffset="0"/>
</g>
<g stroke="#000" stroke-width="1.7" fill="none">
<rect x="697.2" y="13.9" width="437" height="410"/>
<path d="M697.2,116.4h5M697.2,218.9h5M697.2,321.4h5
M1134.2,116.4h-5M1134.2,218.9h-5M1134.2,321.4h-5
M741,423.9v-4.8M828.4,423.9v-4.8M915.8,423.9v-4.8M1003.2,423.9v-4.8M1090.6,423.9v-4.8
M741,13.9v4.8M828.4,13.9v4.8M915.8,13.9v4.8M1003.2,13.9v4.8M1090.6,13.9v4.8"/>
</g>
<g class="t" text-anchor="end">
<text x="687" y="21.8">0.398</text>
<text x="687" y="125.3">0.397</text>
<text x="687" y="228.5">0.396</text>
<text x="687" y="331.7">0.395</text>
<text x="687" y="434.8">0.394</text>
</g>
<g class="t" text-anchor="middle">
<text x="828.3" y="451.2">0</text>
<text x="915.9" y="451.2">2</text>
<text x="1002.9" y="451.2">4</text>
<text x="1090.8" y="451.2">6</text>
</g>
<rect x="726.8" y="444.6" width="15.1" height="1.3" fill="#000"/>
<text x="750.6" y="451.2" class="t" text-anchor="middle">2</text>
<text x="914.1" y="483.2" class="i" style="font-size:28px" text-anchor="middle">x</text>
<text x="578.5" y="23.6" style="font-size:28px">(</text>
<text x="588.3" y="24.4" class="i" style="font-size:29px">b</text>
<text x="604" y="23.6" style="font-size:28px">)</text>
<!-- curve labels -->
<text x="1036" y="112.1" class="i" style="font-size:25.5px">c</text>
<text x="1047.2" y="115.2" style="font-size:17px">2</text>
<text x="1066.2" y="163.1" class="i" style="font-size:25.5px">c</text>
<text x="1078.4" y="166.5" style="font-size:17px">1</text>
<!-- (x 10^-4) -->
<text x="1049" y="488" class="t">(</text>
<path d="M1060.2,476.6L1071.4,487.2M1071.4,476.6L1060.2,487.2" stroke="#000" stroke-width="1.25" fill="none"/>
<text x="1082" y="488" class="t">10</text>
<rect x="1106.8" y="473.4" width="9.2" height="1.1" fill="#000"/>
<text x="1117.5" y="478.2" style="font-size:17px">4</text>
<text x="1126" y="488" class="t">)</text>
</svg>
</body></html>
